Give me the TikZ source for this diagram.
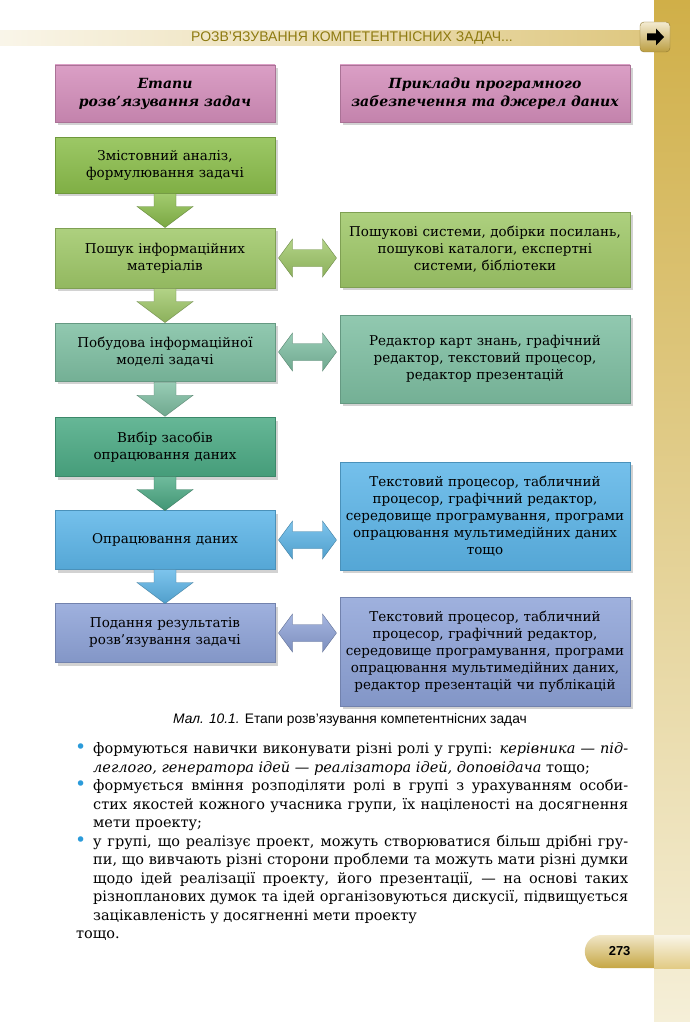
\documentclass[tikz,border=0pt]{standalone}
\usepackage{fontspec}
\setmainfont{DejaVu Serif}
\newfontfamily\capfont{Liberation Sans}
\newfontfamily\headfont{Liberation Sans}
\usetikzlibrary{calc,shadows,shapes.misc}

\definecolor{hdpink}{HTML}{D48EBB}
\definecolor{grnA}{HTML}{8BBE4B}
\definecolor{grnB}{HTML}{9FC868}
\definecolor{tealA}{HTML}{7EBFA2}
\definecolor{tealB}{HTML}{4BAA84}
\definecolor{skyA}{HTML}{5CB5E8}
\definecolor{lavA}{HTML}{8EA3D8}
\definecolor{goldA}{HTML}{D0AF48}
\definecolor{goldM}{HTML}{E2CB85}
\definecolor{goldB}{HTML}{F5EFD8}
\definecolor{headtxt}{HTML}{8E7A10}
\definecolor{dotblue}{HTML}{2B9BDA}

\tikzset{
  box/.style={rectangle, inner sep=3pt, align=center,
    font=\fontsize{13.5}{17}\selectfont,
    draw=#1!80!black, line width=0.4pt,
    top color=#1!85!white, bottom color=#1!92!black,
    drop shadow={shadow xshift=3pt, shadow yshift=-3pt, opacity=0.35}},
  stage/.style={box=#1, minimum width=220pt, text width=212pt},
  tool/.style={box=#1, minimum width=290pt, text width=282pt},
  title/.style={box=hdpink, minimum width=#1, minimum height=57pt,
    font=\bfseries\itshape\fontsize{14}{18}\selectfont},
  fat/.style={top color=#1!80!white, bottom color=#1!88!black,
    draw=#1!70!black, line width=0.4pt},
  downarr/.pic={\path[pic actions] (-11,-17) -- (11,-17) -- (11,-4) -- (28,-4)
    -- (0,17) -- (-28,-4) -- (-11,-4) -- cycle;},
  dblarr/.pic={\path[pic actions] (-29,0) -- (-15,-19) -- (-15,-8.5) -- (15,-8.5)
    -- (15,-19) -- (29,0) -- (15,19) -- (15,8.5) -- (-15,8.5) -- (-15,19) -- cycle;}
}

\newcommand\bulitem{\par\noindent\hangindent=17pt\hangafter=0%
  \llap{\textcolor{dotblue}{\scalebox{1.3}{•}}\hspace{7pt}}}

\begin{document}
\begin{tikzpicture}[x=1pt, y=-1pt]
  \useasboundingbox (0,0) rectangle (690,1022);
  \fill[white] (0,0) rectangle (690,1022);

  % page frame
  \shade[top color=goldA, middle color=goldM, bottom color=goldB] (654,0) rectangle (690,1022);
  \shade[left color=goldA!12!white, right color=goldA!70!white] (0,31) rectangle (654,46);
  \node[font=\headfont\fontsize{14}{15}\selectfont, text=headtxt] (runhead) at (352,38.5)
    {РОЗВ’ЯЗУВАННЯ КОМПЕТЕНТНІСНИХ ЗАДАЧ...};
  \node[rectangle, rounded corners=4pt, minimum width=30pt, minimum height=30pt,
    top color=goldA!25!white, bottom color=goldA!90!black, draw=goldA!70!black] (nextbtn) at (655,37) {};
  \fill ($(nextbtn)+(-8,-3.5)$) -- ++(9,0) -- ++(0,-5) -- ++(8,8.5) -- ++(-8,8.5) -- ++(0,-5)
    -- ++(-9,0) -- cycle;

  % column titles
  \node[title=220pt] (h1) at (165,93.5) {Етапи\\ розв’язування задач};
  \node[title=290pt] (h2) at (485,93.5) {Приклади програмного\\ забезпечення та джерел даних};

  % stages
  \node[stage=grnA, minimum height=56pt] (s1) at (165,165) {Змістовний аналіз,\\ формулювання задачі};
  \node[stage=grnB, minimum height=60pt] (s2) at (165,258) {Пошук інформаційних\\ матеріалів};
  \node[stage=tealA, minimum height=58pt] (s3) at (165,352) {Побудова інформаційної\\ моделі задачі};
  \node[stage=tealB, minimum height=59pt] (s4) at (165,447) {Вибір засобів\\ опрацювання даних};
  \node[stage=skyA, minimum height=59pt] (s5) at (165,540) {Опрацювання даних};
  \node[stage=lavA, minimum height=59pt] (s6) at (165,633) {Подання результатів\\ розв’язування задачі};

  % software and sources
  \node[tool=grnB, minimum height=75pt] (r2) at (485,249.5)
    {Пошукові системи, добірки посилань,\\ пошукові каталоги, експертні\\ системи, бібліотеки};
  \node[tool=tealA, minimum height=88pt] (r3) at (485,359)
    {Редактор карт знань, графічний\\ редактор, текстовий процесор,\\ редактор презентацій};
  \node[tool=skyA, minimum height=108pt] (r5) at (485,516)
    {Текстовий процесор, табличний\\ процесор, графічний редактор,\\ середовище програмування, програми\\ опрацювання мультимедійних даних\\ тощо};
  \node[tool=lavA, minimum height=109pt] (r6) at (485,651.5)
    {Текстовий процесор, табличний\\ процесор, графічний редактор,\\ середовище програмування, програми\\ опрацювання мультимедійних даних,\\ редактор презентацій чи публікацій};

  % arrows between stages
  \pic[fat=grnA] at ($(s1.south)!.5!(s2.north)$) {downarr};
  \pic[fat=grnB] at ($(s2.south)!.5!(s3.north)$) {downarr};
  \pic[fat=tealA] at ($(s3.south)!.5!(s4.north)$) {downarr};
  \pic[fat=tealB] at ($(s4.south)!.5!(s5.north)$) {downarr};
  \pic[fat=skyA] at ($(s5.south)!.5!(s6.north)$) {downarr};

  % arrows to examples
  \pic[fat=grnB] at ($(s2.east)!.5!(s2.east -| r2.west)$) {dblarr};
  \pic[fat=tealA] at ($(s3.east)!.5!(s3.east -| r3.west)$) {dblarr};
  \pic[fat=skyA] at ($(s5.east)!.5!(s5.east -| r5.west)$) {dblarr};
  \pic[fat=lavA] at ($(s6.east)!.5!(s6.east -| r6.west)$) {dblarr};

  \node[font=\capfont\fontsize{13.8}{15}\selectfont] (caption) at (350,720)
    {\textit{Мал. 10.1.} Етапи розв’язування компетентнісних задач};

  % text under the figure
  \node[anchor=north west, inner sep=0pt, text width=552pt, align=justify,
    font=\fontsize{14.5}{18.5}\selectfont] (body) at (76,735) {%
    \bulitem формуються навички виконувати різні ролі у групі: \textit{керівника — під-}\linebreak
    \textit{леглого, генератора ідей — реалізатора ідей, доповідача} тощо;
    \bulitem формується вміння розподіляти ролі в групі з урахуванням особи-\linebreak
    стих якостей кожного учасника групи, їх націленості на досягнення\linebreak
    мети проекту;
    \bulitem у групі, що реалізує проект, можуть створюватися більш дрібні гру-\linebreak
    пи, що вивчають різні сторони проблеми та можуть мати різні думки\linebreak
    щодо ідей реалізації проекту, його презентації, — на основі таких\linebreak
    різнопланових думок та ідей організовуються дискусії, підвищується\linebreak
    зацікавленість у досягненні мети проекту
    \par\noindent тощо.};

  \shade[top color=goldB!60!white, bottom color=goldM] (654,935) rectangle (690,968);
  \node[rounded rectangle, rounded rectangle right arc=none, anchor=east,
    minimum width=89pt, minimum height=33pt, inner xsep=10pt,
    top color=goldA!30!white, bottom color=goldA!95!black,
    font=\capfont\bfseries\fontsize{13}{14}\selectfont] (pageno) at (654,951.5) {273};
\end{tikzpicture}
\end{document}
